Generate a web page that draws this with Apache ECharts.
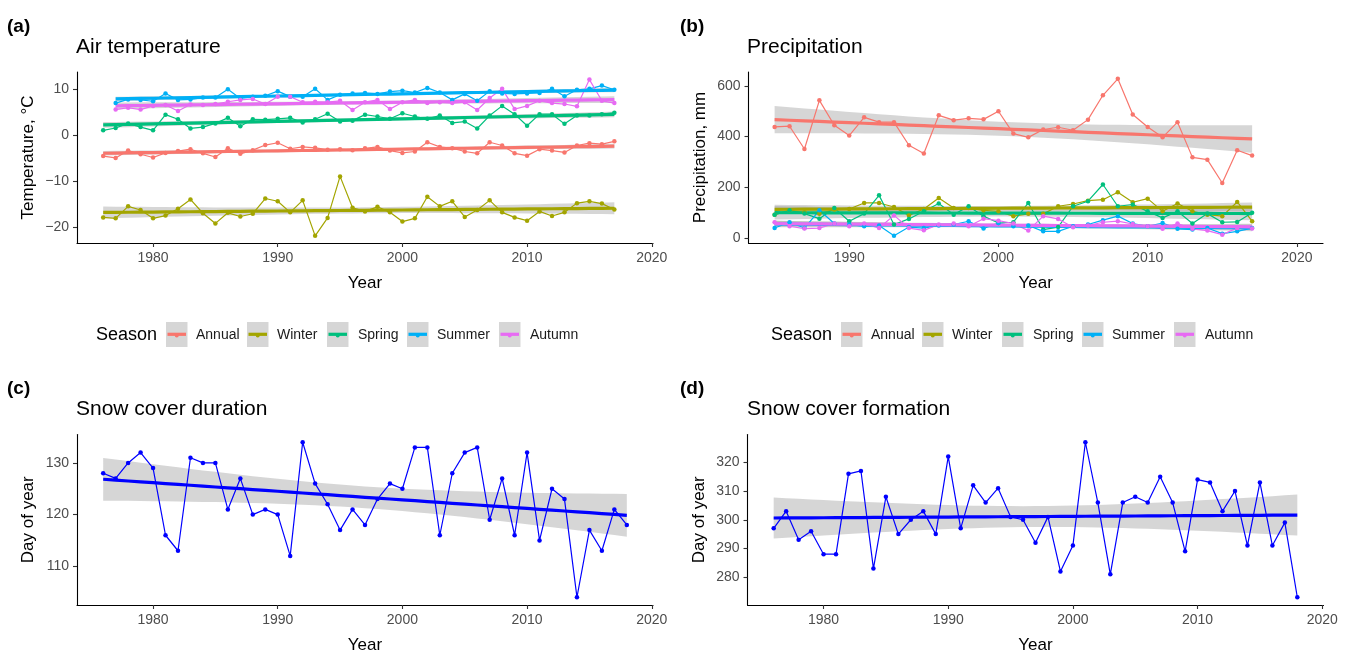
<!DOCTYPE html>
<html>
<head>
<meta charset="utf-8">
<script src="https://cdn.jsdelivr.net/npm/echarts@6/dist/echarts.min.js"></script>
<style>
  html, body { margin: 0; padding: 0; background: #fff; }
  #chart { width: 1350px; height: 655px; }
</style>
</head>
<body>
<div id="chart"></div>
<script>
// years on the x axes
const allYears = [1976, 1977, 1978, 1979, 1980, 1981, 1982, 1983, 1984, 1985,
  1986, 1987, 1988, 1989, 1990, 1991, 1992, 1993, 1994, 1995,
  1996, 1997, 1998, 1999, 2000, 2001, 2002, 2003, 2004, 2005,
  2006, 2007, 2008, 2009, 2010, 2011, 2012, 2013, 2014, 2015,
  2016, 2017, 2018]
const yearsTemp = allYears.slice(0, 42)     // 1976-2017
const yearsTempSA = allYears.slice(1, 42)   // 1977-2017
const yearsPrecip = allYears.slice(9, 42)   // 1985-2017
const yearsSnow = allYears                  // 1976-2018

const seasons = ['Annual', 'Winter', 'Spring', 'Summer', 'Autumn']

// (a) air temperature, °C
const tempAnnual = [-4.5, -4.9, -3.3, -4.1, -4.8, -3.8, -3.4, -3.0, -3.9, -4.7,
  -2.8, -4.0, -3.2, -2.1, -1.6, -2.9, -2.5, -2.7, -3.1, -3.0,
  -3.2, -2.8, -2.5, -3.3, -3.8, -3.5, -1.5, -2.5, -2.8, -3.5,
  -3.9, -1.5, -2.2, -3.9, -4.4, -3.0, -3.3, -3.7, -2.2, -1.7,
  -1.9, -1.3]
const tempWinter = [-17.8, -18.0, -15.4, -16.2, -18.0, -17.4, -15.9, -13.9, -16.9, -19.1,
  -16.8, -17.6, -17.0, -13.7, -14.3, -16.7, -14.1, -21.8, -17.9, -8.9,
  -15.7, -16.5, -15.5, -16.7, -18.7, -18.0, -13.3, -15.4, -14.3, -17.7,
  -16.2, -14.1, -16.7, -17.8, -18.5, -16.5, -17.5, -16.7, -14.7, -14.3,
  -14.8, -16.1]
const tempSpring = [1.1, 1.6, 2.6, 1.8, 1.1, 4.5, 3.5, 1.5, 1.8, 2.6,
  3.8, 2.0, 3.5, 3.4, 3.6, 3.8, 2.8, 3.5, 4.7, 3.0,
  3.2, 4.5, 4.1, 3.6, 4.8, 4.1, 3.6, 4.3, 2.7, 3.0,
  1.5, 4.3, 6.4, 4.6, 2.1, 4.6, 4.6, 2.5, 4.3, 4.3,
  4.6, 4.9]
const tempSummer = [7.0, 7.8, 7.7, 7.4, 9.1, 7.7, 7.8, 8.2, 8.2, 10.0,
  8.0, 8.4, 8.6, 9.6, 8.4, 8.4, 10.1, 7.7, 8.8, 9.1,
  9.2, 9.0, 9.5, 9.7, 9.3, 10.3, 9.3, 7.7, 9.0, 7.5,
  9.6, 9.1, 9.0, 9.1, 9.2, 10.1, 8.5, 9.9, 10.1, 10.8,
  9.9]
const tempAutumn = [5.6, 6.0, 5.6, 6.4, 6.6, 5.3, 6.7, 6.6, 6.8,
  7.3, 7.7, 7.9, 6.8, 8.4, 8.4, 7.2, 7.3, 7.2, 7.5,
  5.5, 7.2, 7.7, 5.7, 7.2, 7.7, 7.0, 7.2, 7.0, 7.2,
  5.5, 8.1, 10.1, 5.7, 6.4, 7.5, 7.0, 6.8, 6.3, 12.1,
  7.5, 7.0]

// (b) precipitation, mm
const precAnnual = [438, 441, 351, 543, 445, 404, 476, 457, 457, 366,
  333, 484, 465, 472, 468, 500, 412, 397, 428, 437,
  425, 467, 563, 628, 487, 438, 397, 457, 318, 309,
  217, 346, 325]
const precWinter = [92, 109, 101, 95, 112, 114, 138, 138, 122, 89,
  114, 158, 118, 118, 109, 105, 86, 95, 95, 125,
  134, 147, 151, 180, 141, 155, 105, 136, 105, 92,
  86, 142, 66]
const precSpring = [92, 109, 96, 76, 118, 66, 96, 168, 53, 75,
  105, 136, 92, 125, 86, 59, 62, 138, 33, 43,
  125, 145, 211, 125, 132, 105, 79, 105, 57, 96,
  62, 63, 99]
const precSummer = [39, 62, 39, 109, 57, 53, 46, 49, 9, 43,
  39, 49, 53, 66, 37, 59, 46, 49, 26, 26,
  46, 53, 70, 86, 57, 46, 59, 36, 33, 39,
  17, 26, 39]
const precAutumn = [62, 46, 37, 39, 57, 46, 57, 39, 89, 39,
  30, 53, 57, 46, 76, 68, 57, 29, 86, 75,
  42, 49, 62, 66, 55, 46, 36, 57, 36, 29,
  13, 39, 37]

// (c) snow cover duration, (d) snow cover formation, day of year
const snowDuration = [128, 127, 130, 132, 129, 116, 113, 131, 130, 130,
  121, 127, 120, 121, 120, 112, 134, 126, 122, 117,
  121, 118, 123, 126, 125, 133, 133, 116, 128, 132,
  133, 119, 127, 116, 132, 115, 125, 123, 104, 117,
  113, 121, 118]
const snowFormation = [297, 303, 293, 296, 288, 288, 316, 317, 283, 308,
  295, 300, 303, 295, 322, 297, 312, 306, 311, 301,
  300, 292, 301, 282, 291, 327, 306, 281, 306, 308,
  306, 315, 306, 289, 314, 313, 303, 310, 291, 313,
  291, 299, 273]

// tick labels
const yearTicks = [1980, 1990, 2000, 2010, 2020]
const tempTicks = [-20, -10, 0, 10]
const precTicks = [0, 200, 400, 600]
const durTicks = [110, 120, 130]
const formTicks = [280, 290, 300, 310, 320]

const palette = ['#F8766D', '#A3A500', '#00BF7D', '#00B0F6', '#E76BF3']
const FONT = 'Liberation Sans, Arial, sans-serif'

// linear fit with 95% confidence band (like geom_smooth(method = 'lm'))
function lmFit(xs, ys) {
  const n = xs.length
  let mx = 0, my = 0
  for (let i = 0; i < n; i++) { mx += xs[i]; my += ys[i] }
  mx /= n; my /= n
  let sxx = 0, sxy = 0
  for (let i = 0; i < n; i++) {
    sxx += (xs[i] - mx) * (xs[i] - mx)
    sxy += (xs[i] - mx) * (ys[i] - my)
  }
  const b = sxy / sxx
  const a = my - b * mx
  let sse = 0
  for (let i = 0; i < n; i++) { const r = ys[i] - (a + b * xs[i]); sse += r * r }
  const df = n - 2
  const s = Math.sqrt(sse / df)
  const t = 1.96 + 2.37 / df + 2.8 / (df * df)
  return xs.map((x) => {
    const yh = a + b * x
    const se = s * Math.sqrt(1 / n + (x - mx) * (x - mx) / sxx)
    return [x, yh, yh - t * se, yh + t * se]
  })
}

function pairs(xs, ys) {
  return xs.map((x, i) => [x, ys[i]])
}

function dataLine(xs, ys, color, idx) {
  return {
    type: 'line', xAxisIndex: idx, yAxisIndex: idx,
    data: pairs(xs, ys),
    symbol: 'circle', symbolSize: 4.5, showAllSymbol: true,
    lineStyle: { width: 1.2, color: color },
    itemStyle: { color: color },
    silent: true,
  }
}

function bandSeries(fit, idx) {
  return {
    type: 'custom', xAxisIndex: idx, yAxisIndex: idx,
    data: fit.map((r) => [r[0], r[2], r[3]]),
    encode: { x: 0, y: [1, 2] },
    silent: true,
    renderItem: function (params, api) {
      if (params.dataIndex !== 0) return null
      const pts = []
      fit.forEach((r) => pts.push(api.coord([r[0], r[2]])))
      for (let i = fit.length - 1; i >= 0; i--) pts.push(api.coord([fit[i][0], fit[i][3]]))
      return { type: 'polygon', shape: { points: pts }, style: { fill: 'rgba(153,153,153,0.4)' } }
    },
  }
}

function trendLine(fit, color, idx) {
  return {
    type: 'line', xAxisIndex: idx, yAxisIndex: idx,
    data: fit.map((r) => [r[0], r[1]]),
    showSymbol: false, symbol: 'none',
    lineStyle: { width: 3.2, color: color },
    silent: true,
  }
}

function minus(v) {
  return String(v).replace('-', '\u2212')
}

function xAxisOf(idx, min, max) {
  return {
    type: 'value', gridIndex: idx, min: min, max: max,
    name: 'Year', nameLocation: 'middle', nameGap: 32,
    nameTextStyle: { fontFamily: FONT, fontSize: 17, color: '#000' },
    axisLine: { onZero: false, lineStyle: { color: '#000', width: 1.1 } },
    axisTick: { customValues: yearTicks, length: 4, lineStyle: { color: '#333', width: 1.1 } },
    axisLabel: { customValues: yearTicks, margin: 8, fontFamily: FONT, fontSize: 14, color: '#4d4d4d', formatter: (v) => String(v) },
    splitLine: { show: false },
  }
}

function yAxisOf(idx, min, max, ticks, name) {
  return {
    type: 'value', gridIndex: idx, min: min, max: max,
    name: name, nameLocation: 'middle', nameGap: 40, nameRotate: 90,
    nameTextStyle: { fontFamily: FONT, fontSize: 17, color: '#000' },
    axisLine: { show: true, onZero: false, lineStyle: { color: '#000', width: 1.1 } },
    axisTick: { show: true, customValues: ticks, length: 4, lineStyle: { color: '#333', width: 1.1 } },
    axisLabel: { customValues: ticks, margin: 8, fontFamily: FONT, fontSize: 14, color: '#4d4d4d', formatter: minus },
    splitLine: { show: false },
  }
}

const series = []
const tempVals = [tempAnnual, tempWinter, tempSpring, tempSummer, tempAutumn]
const tempYears = [yearsTemp, yearsTemp, yearsTemp, yearsTempSA, yearsTempSA]
const precVals = [precAnnual, precWinter, precSpring, precSummer, precAutumn]

tempVals.forEach((v, k) => series.push(dataLine(tempYears[k], v, palette[k], 0)))
tempVals.forEach((v, k) => {
  const f = lmFit(tempYears[k], v)
  series.push(bandSeries(f, 0), trendLine(f, palette[k], 0))
})
precVals.forEach((v, k) => series.push(dataLine(yearsPrecip, v, palette[k], 1)))
precVals.forEach((v, k) => {
  const f = lmFit(yearsPrecip, v)
  series.push(bandSeries(f, 1), trendLine(f, palette[k], 1))
})
series.push(dataLine(yearsSnow, snowDuration, '#0000FF', 2))
const fDur = lmFit(yearsSnow, snowDuration)
series.push(bandSeries(fDur, 2), trendLine(fDur, '#0000FF', 2))
series.push(dataLine(yearsSnow, snowFormation, '#0000FF', 3))
const fForm = lmFit(yearsSnow, snowFormation)
series.push(bandSeries(fForm, 3), trendLine(fForm, '#0000FF', 3))

// legends "Season" under (a) and (b)
function legendGraphics(dx) {
  const boxes = [166, 247, 327, 407, 499]
  const labels = [196, 277, 358, 437, 530]
  const els = [{
    type: 'text', left: 96 + dx, top: 326,
    style: { text: 'Season', font: '18px ' + FONT, fill: '#000' },
  }]
  seasons.forEach((s, k) => {
    const x = boxes[k] + dx
    els.push({ type: 'rect', shape: { x: x, y: 322, width: 21.5, height: 25 }, style: { fill: '#d6d6d6' } })
    els.push({ type: 'circle', shape: { cx: x + 10.75, cy: 335.5, r: 2 }, style: { fill: palette[k] } })
    els.push({ type: 'line', shape: { x1: x + 1.5, y1: 334.3, x2: x + 20, y2: 334.3 }, style: { stroke: palette[k], lineWidth: 3.2 } })
    els.push({ type: 'text', left: labels[k] + dx, top: 328.5, style: { text: s, font: '14px ' + FONT, fill: '#1a1a1a' } })
  })
  return els
}

function titleOf(text, left, top, bold) {
  return {
    text: text, left: left, top: top, padding: 0,
    textStyle: { fontFamily: FONT, fontSize: bold ? 19 : 21, fontWeight: bold ? 'bold' : 'normal', color: '#000', lineHeight: bold ? 19 : 21 },
  }
}

const chart = echarts.init(document.getElementById('chart'))
chart.setOption({
  animation: false,
  backgroundColor: '#fff',
  title: [
    titleOf('(a)', 7, 17, true), titleOf('Air temperature', 76, 37, false),
    titleOf('(b)', 680, 17, true), titleOf('Precipitation', 747, 37, false),
    titleOf('(c)', 7, 379, true), titleOf('Snow cover duration', 76, 399, false),
    titleOf('(d)', 680, 379, true), titleOf('Snow cover formation', 747, 399, false),
  ],
  grid: [
    { left: 77, top: 72, width: 576, height: 171 },
    { left: 748.5, top: 72, width: 574.5, height: 171 },
    { left: 77, top: 434.5, width: 576, height: 172 },
    { left: 747.5, top: 434.5, width: 576, height: 172 },
  ],
  xAxis: [
    xAxisOf(0, 1973.9, 2020.1),
    xAxisOf(1, 1983.25, 2021.75),
    xAxisOf(2, 1973.9, 2020.1),
    xAxisOf(3, 1973.9, 2020.1),
  ],
  yAxis: [
    yAxisOf(0, -23.35, 13.75, tempTicks, 'Temperature, °C'),
    yAxisOf(1, -20, 655, precTicks, 'Precipitation, mm'),
    yAxisOf(2, 102.5, 135.5, durTicks, 'Day of year'),
    yAxisOf(3, 270.3, 329.7, formTicks, 'Day of year'),
  ],
  graphic: legendGraphics(0).concat(legendGraphics(675)),
  series: series,
})
</script>
</body>
</html>
